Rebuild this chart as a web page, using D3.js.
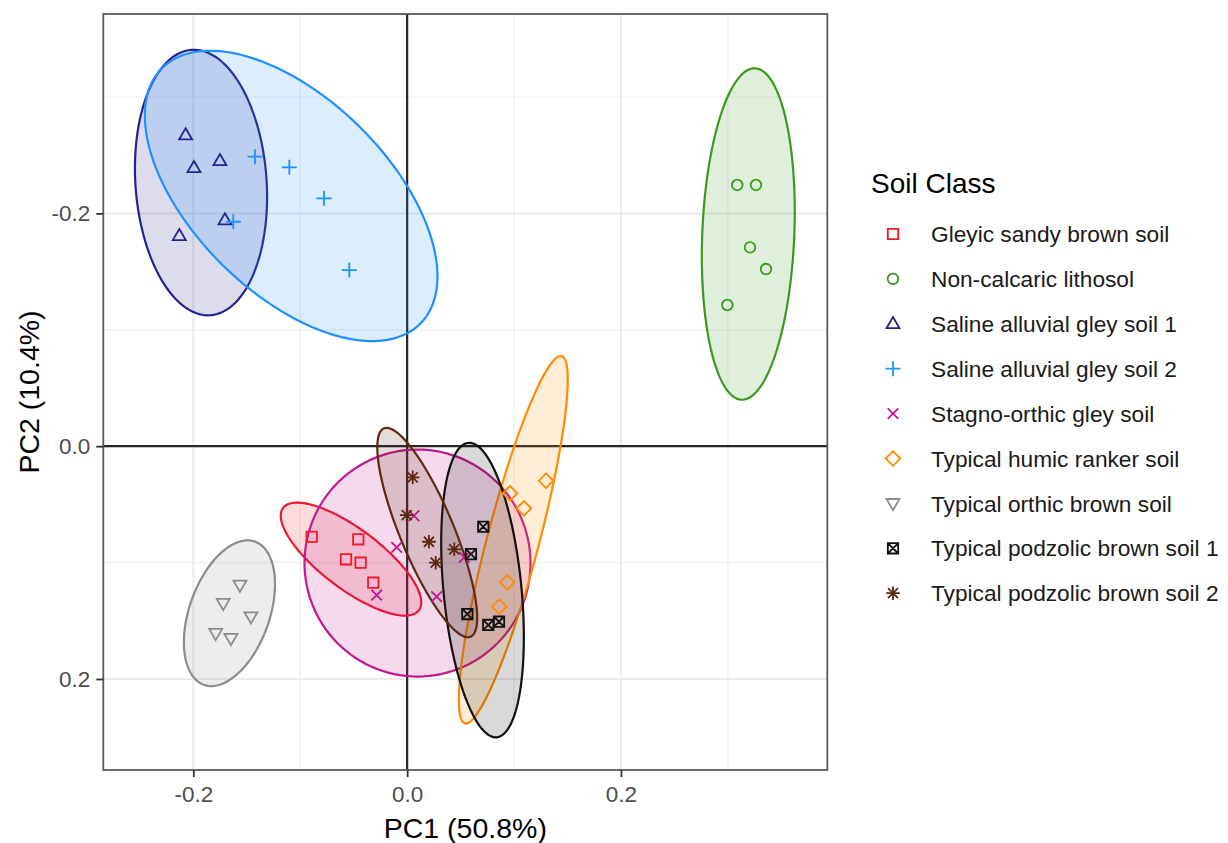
<html>
<head>
<meta charset="utf-8">
<script src="https://d3js.org/d3.v7.min.js"></script>
<style>
  body { margin: 0; background: #fff; }
  text { font-family: Helvetica, Arial, "Liberation Sans", sans-serif; }
</style>
</head>
<body>
<div id="chart"></div>
<script>
  // soil classes in legend order
  var classes = [
    "Gleyic sandy brown soil",
    "Non-calcaric lithosol",
    "Saline alluvial gley soil 1",
    "Saline alluvial gley soil 2",
    "Stagno-orthic gley soil",
    "Typical humic ranker soil",
    "Typical orthic brown soil",
    "Typical podzolic brown soil 1",
    "Typical podzolic brown soil 2"
  ];

  // PC1 / PC2 scores, one list per class
  var pc1 = [
    [-0.0893, -0.0457, -0.0572, -0.0435, -0.0317],
    [0.3088, 0.3263, 0.3207, 0.3357, 0.2995],
    [-0.2072, -0.1994, -0.1751, -0.1704, -0.2131],
    [-0.1423, -0.1102, -0.0778, -0.1626, -0.0541],
    [-0.0285, -0.0098, 0.0064, 0.0276, 0.0535],
    [0.1299, 0.0962, 0.1093, 0.0937, 0.0862],
    [-0.1564, -0.1720, -0.1461, -0.1791, -0.1648],
    [0.0712, 0.0597, 0.0563, 0.0759, 0.0859],
    [0.0052, -0.0004, 0.0204, 0.0267, 0.0441]
  ];
  var pc2 = [
    [0.0778, 0.0800, 0.0972, 0.1001, 0.1173],
    [-0.2244, -0.2244, -0.1708, -0.1522, -0.1213],
    [-0.2673, -0.2392, -0.2452, -0.1943, -0.1808],
    [-0.2487, -0.2396, -0.2129, -0.1928, -0.1513],
    [0.1279, 0.0869, 0.0598, 0.1293, 0.0955],
    [0.0297, 0.0405, 0.0534, 0.1170, 0.1379],
    [0.1193, 0.1350, 0.1465, 0.1608, 0.1651],
    [0.0692, 0.0927, 0.1442, 0.1536, 0.1508],
    [0.0268, 0.0592, 0.0821, 0.1001, 0.0886]
  ];

  // confidence ellipses: centre and the two half-axis vectors (data units)
  var ellCentre = [
    [-0.0525, 0.0970], [0.3191, -0.1823], [-0.1928, -0.2265], [-0.1085, -0.2150],
    [0.0097, 0.1004], [0.0993, 0.0804], [-0.1662, 0.1435], [0.0705, 0.1236], [0.0188, 0.0742]
  ];
  var ellAxisA = [
    [0.0635, 0.0440], [0.0063, -0.1424], [-0.0087, -0.1140], [0.1210, 0.1096],
    [0.1057, 0], [0.0452, -0.1578], [0.0240, -0.0615], [-0.0133, -0.1265], [-0.0405, -0.0895]
  ];
  var ellAxisB = [
    [-0.0169, 0.0205], [0.0430, 0.0016], [0.0612, -0.0039], [-0.0640, 0.0595],
    [0, 0.0975], [0.0235, 0.0057], [0.0352, 0.0118], [0.0363, -0.0032], [0.0233, -0.0089]
  ];

  var xDomain = [-0.2842, 0.3930];
  var yDomain = [-0.3713, 0.2782];
  var majorTicks = [-0.2, 0, 0.2];
  var xMinor = [-0.1, 0.1, 0.3];
  var yMinor = [-0.3, -0.1, 0.1];

  var colors = ["#F0182A", "#3A9A1C", "#24248F", "#1E90FF", "#C2188F", "#FF8C00", "#8C8C8C", "#111111", "#5C2A12"];

  var width = 1228, height = 843;
  var panel = { left: 103.3, right: 827.3, top: 14, bottom: 770 };

  var svg = d3.select("#chart").append("svg")
    .attr("width", width)
    .attr("height", height);

  var x = d3.scaleLinear().domain(xDomain).range([panel.left, panel.right]);
  var y = d3.scaleLinear().domain(yDomain).range([panel.top, panel.bottom]);

  // grid
  var grid = svg.append("g");
  grid.selectAll(".xminor").data(xMinor).enter().append("line")
    .attr("x1", d => x(d)).attr("x2", d => x(d))
    .attr("y1", panel.top).attr("y2", panel.bottom)
    .attr("stroke", "#EFEFEF").attr("stroke-width", 1.2);
  grid.selectAll(".yminor").data(yMinor).enter().append("line")
    .attr("y1", d => y(d)).attr("y2", d => y(d))
    .attr("x1", panel.left).attr("x2", panel.right)
    .attr("stroke", "#EFEFEF").attr("stroke-width", 1.2);
  grid.selectAll(".xmajor").data(majorTicks).enter().append("line")
    .attr("x1", d => x(d)).attr("x2", d => x(d))
    .attr("y1", panel.top).attr("y2", panel.bottom)
    .attr("stroke", "#EBEBEB").attr("stroke-width", 2);
  grid.selectAll(".ymajor").data(majorTicks).enter().append("line")
    .attr("y1", d => y(d)).attr("y2", d => y(d))
    .attr("x1", panel.left).attr("x2", panel.right)
    .attr("stroke", "#EBEBEB").attr("stroke-width", 2);

  // zero lines
  svg.append("line")
    .attr("x1", x(0)).attr("x2", x(0)).attr("y1", panel.top).attr("y2", panel.bottom)
    .attr("stroke", "#262626").attr("stroke-width", 2.2);
  svg.append("line")
    .attr("y1", y(0)).attr("y2", y(0)).attr("x1", panel.left).attr("x2", panel.right)
    .attr("stroke", "#262626").attr("stroke-width", 2.2);

  // ellipses
  var steps = d3.range(0, 120).map(i => i / 120 * 2 * Math.PI);
  var line = d3.line().curve(d3.curveLinearClosed);
  classes.forEach(function (c, i) {
    var pts = steps.map(function (t) {
      var px = ellCentre[i][0] + ellAxisA[i][0] * Math.cos(t) + ellAxisB[i][0] * Math.sin(t);
      var py = ellCentre[i][1] + ellAxisA[i][1] * Math.cos(t) + ellAxisB[i][1] * Math.sin(t);
      return [x(px), y(py)];
    });
    svg.append("path")
      .attr("d", line(pts))
      .attr("fill", colors[i])
      .attr("fill-opacity", 0.16)
      .attr("stroke", colors[i])
      .attr("stroke-width", 2.2);
  });

  // point shapes (ggplot 0..8)
  function shape(k) {
    switch (k) {
      case 0: return "M-5.2,-5.2H5.2V5.2H-5.2Z";
      case 1: return "M5.3,0A5.3,5.3 0 1,1 -5.3,0A5.3,5.3 0 1,1 5.3,0Z";
      case 2: return "M0,-6.8L6.5,4.4L-6.5,4.4Z";
      case 3: return "M-7.5,0H7.5M0,-7.5V7.5";
      case 4: return "M-5.3,-5.3L5.3,5.3M-5.3,5.3L5.3,-5.3";
      case 5: return "M0,-7.3L7.3,0L0,7.3L-7.3,0Z";
      case 6: return "M0,6.8L6.5,-4.4L-6.5,-4.4Z";
      case 7: return "M-5.2,-5.2H5.2V5.2H-5.2ZM-5.2,-5.2L5.2,5.2M-5.2,5.2L5.2,-5.2";
      case 8: return "M-6.8,0H6.8M0,-6.8V6.8M-5,-5L5,5M-5,5L5,-5";
    }
  }

  classes.forEach(function (c, i) {
    var pts = pc1[i].map((v, j) => [v, pc2[i][j]]);
    svg.append("g").selectAll("path").data(pts).enter().append("path")
      .attr("d", shape(i))
      .attr("transform", d => "translate(" + x(d[0]) + "," + y(d[1]) + ")")
      .attr("fill", "none")
      .attr("stroke", colors[i])
      .attr("stroke-width", 1.8);
  });

  // panel border
  svg.append("rect")
    .attr("x", panel.left).attr("y", panel.top)
    .attr("width", panel.right - panel.left).attr("height", panel.bottom - panel.top)
    .attr("fill", "none").attr("stroke", "#5a5a5a").attr("stroke-width", 1.8);

  // axes
  var fmt = d => d.toFixed(1);
  var xAxis = svg.append("g")
    .attr("transform", "translate(0," + panel.bottom + ")")
    .call(d3.axisBottom(x).tickValues(majorTicks).tickFormat(fmt).tickSize(7).tickPadding(9));
  var yAxis = svg.append("g")
    .attr("transform", "translate(" + panel.left + ",0)")
    .call(d3.axisLeft(y).tickValues(majorTicks).tickFormat(fmt).tickSize(7).tickPadding(6));
  [xAxis, yAxis].forEach(function (a) {
    a.select(".domain").remove();
    a.selectAll(".tick line").attr("stroke", "#333").attr("stroke-width", 1.8);
    a.selectAll(".tick text")
      .attr("fill", "#4D4D4D")
      .style("font-size", "22.5px")
      .style("font-family", "Helvetica, Arial, 'Liberation Sans', sans-serif");
  });

  svg.append("text")
    .attr("x", (panel.left + panel.right) / 2)
    .attr("y", 838)
    .attr("text-anchor", "middle")
    .style("font-size", "28.5px")
    .text("PC1 (50.8%)");

  svg.append("text")
    .attr("transform", "translate(39," + (panel.top + panel.bottom) / 2 + ") rotate(-90)")
    .attr("text-anchor", "middle")
    .style("font-size", "28.5px")
    .text("PC2 (10.4%)");

  // legend
  var legend = svg.append("g");
  legend.append("text")
    .attr("x", 871)
    .attr("y", 193)
    .style("font-size", "28px")
    .text("Soil Class");

  classes.forEach(function (c, i) {
    var ly = 234 + i * 44.9;
    legend.append("path")
      .attr("d", shape(i))
      .attr("transform", "translate(893," + ly + ")")
      .attr("fill", "none")
      .attr("stroke", colors[i])
      .attr("stroke-width", 1.8);
    legend.append("text")
      .attr("x", 931)
      .attr("y", ly)
      .attr("dy", "0.36em")
      .style("font-size", "22.7px")
      .attr("fill", "#1a1a1a")
      .text(c);
  });
</script>
</body>
</html>
